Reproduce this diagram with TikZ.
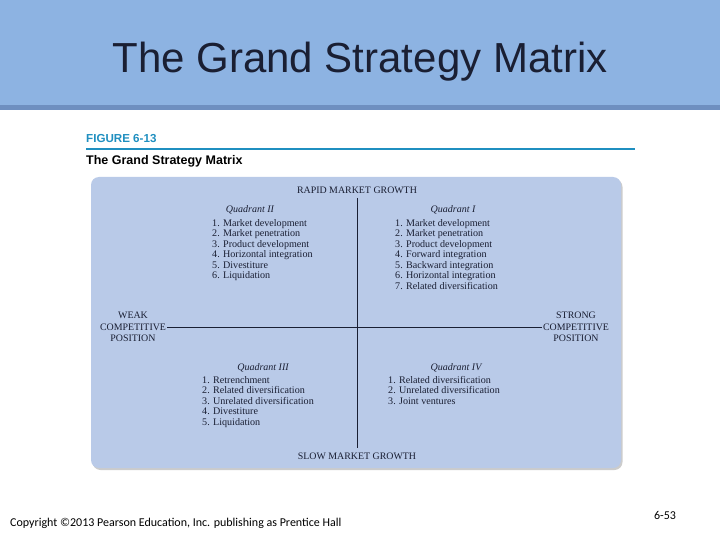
\documentclass[tikz,border=0pt]{standalone}
\usepackage{fontspec}
\setmainfont{Liberation Serif}
\newfontfamily\arialf{Liberation Sans}
\newfontfamily\carl{Carlito}
\usetikzlibrary{shadows}
\definecolor{band}{HTML}{8DB3E2}
\definecolor{bandline}{HTML}{6E8FC0}
\definecolor{panel}{HTML}{B9CAE8}
\definecolor{teal}{HTML}{1F8FC0}
\definecolor{ink}{HTML}{1A1F33}
\tikzset{lst/.style={anchor=north west,align=left,font=\fontsize{10.1}{10.5}\selectfont,text=ink,inner sep=0pt},
hd/.style={font=\fontsize{10}{10}\selectfont\itshape,text=ink,inner sep=0pt},
ax/.style={font=\fontsize{9.9}{11.5}\selectfont,text=ink,align=center,inner sep=1pt}}
\begin{document}
\begin{tikzpicture}[x=1pt,y=-1pt]
\useasboundingbox (0,0) rectangle (720,540);
\fill[white] (0,0) rectangle (720,540);
\fill[band] (0,0) rectangle (720,105);
\fill[bandline] (0,105) rectangle (720,110);
\node[font=\arialf\fontsize{42}{46}\selectfont,text=ink] (title) at (360,62) {The Grand Strategy Matrix};
\node[anchor=west,inner sep=0pt,font=\arialf\bfseries\fontsize{11.6}{12}\selectfont,text=teal] (fig) at (86,139) {FIGURE 6-13};
\draw[teal,line width=1.2pt] (86,149) -- (635,149);
\node[anchor=west,inner sep=0pt,font=\arialf\bfseries\fontsize{12.5}{13}\selectfont] (sub) at (86,161) {The Grand Strategy Matrix};
\fill[panel,rounded corners=8pt,drop shadow={shadow xshift=1.5pt,shadow yshift=-2pt,opacity=0.4}] (91,177) rectangle (621,468);
\node[ax] (rap) at (357,190) {RAPID MARKET GROWTH};
\node[ax] (slow) at (357,456) {SLOW MARKET GROWTH};
\node[ax] (weak) at (133,327) {WEAK\\COMPETITIVE\\POSITION};
\node[ax] (strong) at (576,327) {STRONG\\COMPETITIVE\\POSITION};
\draw[ink,line width=1pt] (357,198) -- (357,448);
\draw[ink,line width=1pt] (weak.east) -- (strong.west);
\node[hd] (q2) at (250,210) {Quadrant II};
\node[lst] (l2) at (212,219) {1. Market development\\2. Market penetration\\3. Product development\\4. Horizontal integration\\5. Divestiture\\6. Liquidation};
\node[hd] (q1) at (453,210) {Quadrant I};
\node[lst] (l1) at (395,219) {1. Market development\\2. Market penetration\\3. Product development\\4. Forward integration\\5. Backward integration\\6. Horizontal integration\\7. Related diversification};
\node[hd] (q3) at (263,368) {Quadrant III};
\node[lst] (l3) at (202,376) {1. Retrenchment\\2. Related diversification\\3. Unrelated diversification\\4. Divestiture\\5. Liquidation};
\node[hd] (q4) at (456,368) {Quadrant IV};
\node[lst] (l4) at (388,376) {1. Related diversification\\2. Unrelated diversification\\3. Joint ventures};
\node[anchor=west,inner sep=0pt,font=\carl\fontsize{12}{12}\selectfont] (copy) at (10,523) {Copyright ©2013 Pearson Education, Inc. publishing as Prentice Hall};
\node[inner sep=0pt,font=\carl\fontsize{12}{12}\selectfont] (pg) at (665,515) {6-53};
\end{tikzpicture}
\end{document}
